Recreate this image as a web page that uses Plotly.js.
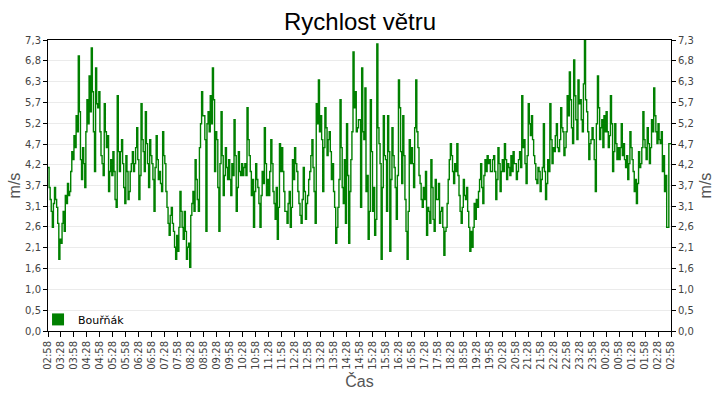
<!DOCTYPE html>
<html>
<head>
<meta charset="utf-8">
<script src="https://cdn.plot.ly/plotly-3.0.1.min.js"></script>
<style>
  html, body { margin: 0; padding: 0; background: #fff; }
  #chart { width: 720px; height: 400px; }
</style>
</head>
<body>
<div id="chart"></div>
<script>
"use strict";

// one sample every 2.5 minutes, starting at 02:58
const STEP_MIN = 2.5;

// wind speed in m/s (12 samples per 30 minutes)
const speed = [
  4.1, 3.6, 3.3, 3.0, 2.6, 3.2, 3.6, 3.3, 3.1, 2.7, 1.8, 2.3,
  2.2, 2.7, 3.0, 2.5, 3.4, 3.2, 3.7, 3.4, 3.5, 4.0, 4.5, 4.3,
  4.9, 4.6, 5.4, 5.0, 6.9, 5.5, 4.3, 3.8, 4.6, 4.2, 3.6, 5.0,
  5.8, 5.2, 6.4, 5.5, 7.1, 6.0, 5.0, 4.0, 6.6, 5.7, 5.6, 6.0,
  5.0, 4.4, 4.2, 3.9, 5.7, 5.0, 4.6, 4.9, 3.5, 4.0, 4.3, 3.9,
  4.5, 4.0, 3.3, 3.1, 5.9, 4.5, 4.0, 4.5, 4.8, 4.2, 3.6, 3.2,
  4.4, 4.0, 3.3, 3.5, 4.0, 4.2, 4.5, 4.0, 4.2, 4.6, 5.1, 4.3,
  3.3, 3.9, 5.7, 4.8, 4.5, 4.0, 5.5, 4.7, 4.2, 3.6, 4.8, 4.4,
  4.2, 3.8, 3.0, 4.1, 4.9, 4.3, 3.8, 4.0, 3.7, 3.5, 5.0, 4.4,
  4.2, 3.5, 3.1, 2.7, 2.4, 2.9, 3.1, 2.7, 2.5, 2.1, 1.8, 2.4,
  2.0, 2.6, 3.5, 3.0, 2.6, 2.3, 3.0, 2.5, 1.8, 2.1, 2.2, 1.6,
  2.9, 3.2, 3.5, 3.0, 4.3, 3.8, 3.3, 3.0, 4.6, 5.2, 6.0, 5.4,
  5.4, 4.8, 2.5, 5.2, 5.5, 5.0, 5.9, 5.2, 6.6, 5.8, 4.0, 5.0,
  4.8, 3.6, 2.5, 4.2, 5.5, 4.4, 3.4, 3.9, 4.6, 4.1, 3.8, 4.3,
  3.8, 3.4, 4.2, 3.9, 5.3, 4.4, 3.0, 3.6, 4.5, 4.0, 3.9, 4.2,
  3.9, 4.1, 4.2, 3.9, 5.6, 4.8, 4.4, 4.0, 3.4, 3.8, 2.6, 3.5,
  4.2, 3.8, 3.6, 3.2, 2.6, 3.4, 4.0, 3.7, 5.1, 4.2, 3.4, 3.8,
  3.4, 4.0, 4.8, 4.2, 3.5, 3.2, 2.8, 3.6, 2.3, 3.1, 4.7, 4.0,
  4.6, 4.0, 3.5, 3.0, 3.0, 2.7, 3.2, 3.5, 2.6, 3.1, 4.3, 3.8,
  4.6, 4.2, 4.0, 3.5, 3.2, 2.9, 2.7, 3.3, 4.1, 3.5, 2.8, 3.2,
  3.4, 3.8, 4.0, 4.4, 4.8, 4.1, 3.5, 2.7, 5.7, 5.2, 6.3, 5.0,
  5.4, 4.8, 3.5, 4.6, 5.6, 5.1, 4.4, 4.8, 5.0, 4.5, 3.8, 4.2,
  3.5, 3.1, 2.2, 2.6, 3.1, 3.8, 5.8, 4.6, 3.6, 3.2, 4.3, 2.7,
  5.2, 3.9, 2.2, 3.5, 4.3, 5.0, 7.0, 5.6, 6.0, 5.0, 5.1, 5.3,
  5.3, 3.1, 6.6, 5.0, 4.8, 6.1, 3.5, 3.9, 2.3, 3.0, 5.8, 4.5,
  3.0, 3.6, 2.4, 2.8, 7.2, 5.1, 4.7, 4.2, 1.8, 3.6, 5.4, 4.4,
  4.3, 3.0, 5.4, 4.5, 2.0, 3.8, 5.1, 4.4, 4.1, 3.6, 2.8, 3.9,
  6.3, 5.6, 4.5, 3.7, 5.4, 4.4, 3.3, 2.5, 1.8, 3.0, 4.8, 4.2,
  4.6, 4.2, 3.6, 5.1, 6.3, 5.0, 4.6, 3.9, 3.7, 3.3, 3.1, 3.6,
  3.3, 4.0, 2.4, 3.1, 3.0, 2.7, 4.3, 3.6, 2.8, 2.5, 3.8, 3.3,
  3.3, 3.7, 2.7, 3.0, 3.1, 2.6, 1.9, 2.5, 2.6, 3.2, 3.8, 4.3,
  4.7, 4.4, 4.0, 3.7, 4.2, 4.0, 4.7, 3.9, 3.4, 3.0, 2.7, 3.1,
  3.8, 3.4, 3.3, 3.6, 3.0, 2.6, 2.0, 2.5, 2.1, 2.6, 3.2, 2.8,
  3.3, 3.1, 3.5, 3.8, 4.2, 3.6, 3.2, 3.9, 4.3, 4.0, 4.4, 4.2,
  4.3, 4.0, 4.0, 4.3, 4.4, 4.0, 3.3, 3.8, 4.6, 4.2, 3.5, 4.0,
  4.3, 4.0, 4.7, 4.3, 3.8, 4.2, 4.1, 3.9, 4.4, 4.0, 4.5, 4.2,
  4.2, 3.8, 4.0, 4.3, 4.5, 4.1, 5.9, 4.6, 4.8, 4.2, 3.7, 4.4,
  5.7, 5.2, 4.9, 5.4, 4.8, 4.4, 4.2, 3.8, 3.7, 4.1, 4.0, 3.5,
  3.8, 4.1, 5.2, 4.0, 3.3, 3.7, 4.3, 4.0, 5.7, 4.8, 4.2, 4.6,
  4.5, 4.9, 5.2, 4.6, 4.5, 4.8, 5.6, 5.1, 5.0, 4.4, 4.6, 5.0,
  5.9, 5.4, 6.5, 5.8, 5.1, 4.7, 6.8, 5.9, 5.3, 4.8, 6.3, 5.7,
  5.8, 5.3, 5.0, 6.2, 7.3, 5.8, 5.5, 5.0, 4.3, 4.7, 4.8, 5.1,
  4.8, 4.3, 3.5, 5.2, 6.4, 5.6, 4.8, 5.1, 5.3, 4.6, 5.4, 5.0,
  5.5, 5.0, 4.6, 4.9, 5.9, 5.2, 4.0, 4.5, 5.2, 4.7, 4.3, 4.6,
  4.3, 4.6, 5.2, 4.4, 4.7, 4.3, 4.1, 4.4, 3.8, 4.2, 5.0, 4.6,
  4.3, 4.0, 3.5, 3.8, 3.2, 3.7, 4.5, 4.1, 4.2, 4.6, 5.5, 4.8,
  4.6, 4.3, 5.1, 4.7, 4.2, 4.6, 5.3, 5.0, 6.1, 5.4, 5.0, 4.7,
  5.2, 4.8, 4.7, 5.0, 4.0, 4.4, 3.5, 3.9, 2.6, 2.6, 4.7, 4.7,
  4.7
];

const timeLabels = [
  "02:58", "03:28", "03:58", "04:28", "04:58", "05:28", "05:58", "06:28",
  "06:58", "07:28", "07:58", "08:28", "08:58", "09:28", "09:58", "10:28",
  "10:58", "11:28", "11:58", "12:28", "12:58", "13:28", "13:58", "14:28",
  "14:58", "15:28", "15:58", "16:28", "16:58", "17:28", "17:58", "18:28",
  "18:58", "19:28", "19:58", "20:28", "20:58", "21:28", "21:58", "22:28",
  "22:58", "23:28", "23:58", "00:28", "00:58", "01:28", "01:58", "02:28",
  "02:58"
];
const LABEL_STEP_MIN = 30;

const yTickVals = [0, 0.52, 1.04, 1.56, 2.09, 2.61, 3.13, 3.65, 4.17, 4.69, 5.21, 5.74, 6.26, 6.78, 7.3];
const yTickText = ["0,0", "0,5", "1,0", "1,6", "2,1", "2,6", "3,1", "3,7", "4,2", "4,7", "5,2", "5,7", "6,3", "6,8", "7,3"];

const SERIES_NAME = "Bouřňák";
const GREEN = "#008000";

const minutes = speed.map((_, i) => i * STEP_MIN);
const labelPos = timeLabels.map((_, i) => i * LABEL_STEP_MIN);
const xMax = labelPos[labelPos.length - 1];

const tickFont = { family: "DejaVu Sans, Verdana, sans-serif", size: 10, color: "#444" };
const axisTitleFont = { family: "Liberation Sans, Arial, sans-serif", size: 16, color: "#555" };

const yCommon = {
  range: [0, 7.3],
  tickvals: yTickVals,
  ticktext: yTickText,
  tickfont: tickFont,
  ticks: "outside",
  ticklen: 4,
  tickcolor: "#000",
  showline: true,
  linecolor: "#000",
  linewidth: 1,
  zeroline: false,
  fixedrange: true,
};

const data = [
  {
    x: minutes,
    y: speed,
    mode: "lines",
    line: { color: GREEN, width: 1.4, shape: "hv" },
    showlegend: false,
    hoverinfo: "skip",
  },
  // legend swatch only
  {
    x: [null],
    y: [null],
    mode: "markers",
    name: SERIES_NAME,
    marker: { symbol: "square", size: 12, color: GREEN },
  },
  // keeps the right axis alive
  {
    x: [null],
    y: [null],
    yaxis: "y2",
    mode: "lines",
    showlegend: false,
  },
];

const layout = {
  width: 720,
  height: 400,
  paper_bgcolor: "#fff",
  plot_bgcolor: "#fff",
  margin: { l: 48, r: 49, t: 40, b: 69 },
  title: {
    text: "Rychlost větru",
    font: { family: "Liberation Sans, Arial, sans-serif", size: 24, color: "#000" },
    x: 0.5,
    xanchor: "center",
    y: 0.945,
    yanchor: "middle",
  },
  xaxis: {
    range: [0, xMax],
    tickvals: labelPos,
    ticktext: timeLabels,
    tickangle: -90,
    tickfont: tickFont,
    ticks: "outside",
    ticklen: 5,
    tickcolor: "#000",
    showgrid: false,
    showline: true,
    linecolor: "#000",
    linewidth: 1,
    mirror: true,
    zeroline: false,
    fixedrange: true,
    title: { text: "Čas", font: axisTitleFont, standoff: 6 },
  },
  yaxis: Object.assign({}, yCommon, {
    showgrid: true,
    gridcolor: "#ebebeb",
    gridwidth: 1,
    title: { text: "m/s", font: axisTitleFont, standoff: 0 },
  }),
  yaxis2: Object.assign({}, yCommon, {
    overlaying: "y",
    side: "right",
    showgrid: false,
    title: { text: "m/s", font: axisTitleFont, standoff: 6 },
  }),
  legend: {
    x: -0.016,
    y: -0.01,
    xanchor: "left",
    yanchor: "bottom",
    bgcolor: "rgba(0,0,0,0)",
    font: { family: "DejaVu Sans, Verdana, sans-serif", size: 11, color: "#000" },
    itemwidth: 30,
  },
};

Plotly.newPlot("chart", data, layout, { displayModeBar: false, staticPlot: true });
</script>
</body>
</html>
